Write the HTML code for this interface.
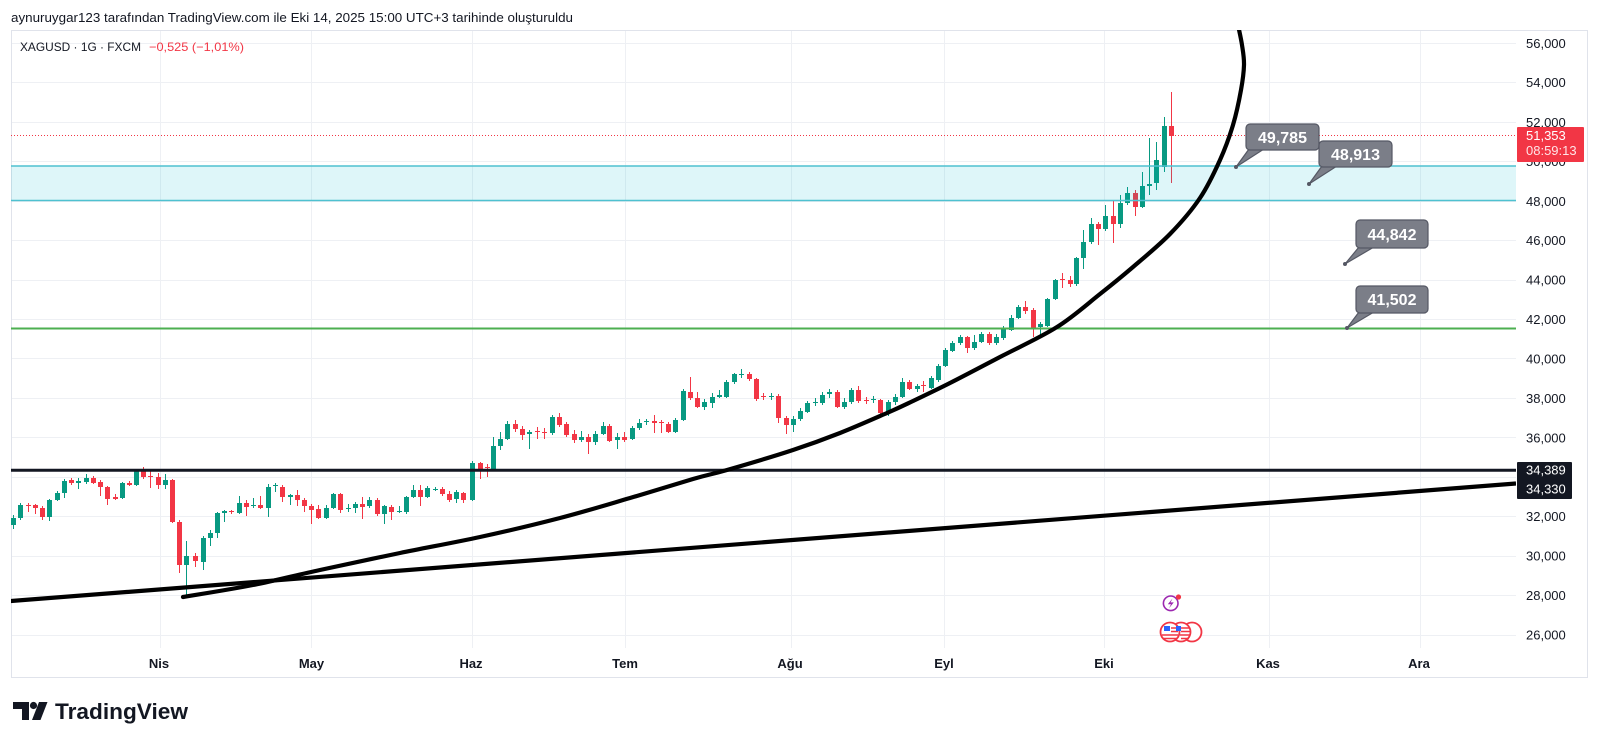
<!DOCTYPE html>
<html><head><meta charset="utf-8"><style>html,body{margin:0;padding:0;background:#fff}svg{display:block}</style></head>
<body>
<svg width="1600" height="745" viewBox="0 0 1600 745" xmlns="http://www.w3.org/2000/svg" font-family="'Liberation Sans', sans-serif">
<defs><clipPath id="pc"><rect x="11" y="30" width="1505" height="618"/></clipPath></defs>
<rect width="1600" height="745" fill="#fff"/>
<!-- header -->
<text x="11" y="22" font-size="13" fill="#131722" textLength="562" lengthAdjust="spacingAndGlyphs">aynuruygar123 tarafından TradingView.com ile Eki 14, 2025 15:00 UTC+3 tarihinde oluşturuldu</text>
<!-- frame -->
<rect x="11.5" y="30.5" width="1576" height="647" fill="none" stroke="#e0e3eb"/>
<!-- grid -->
<g stroke="#eef0f4" stroke-width="1">
<path d="M160.5 31V648M311.5 31V648M472.5 31V648M625.5 31V648M791.5 31V648M944.5 31V648M1104.5 31V648M1269.5 31V648M1420.5 31V648"/>
<path d="M12 43.5H1516M12 82.5H1516M12 122.5H1516M12 161.5H1516M12 201.5H1516M12 240.5H1516M12 280.5H1516M12 319.5H1516M12 358.5H1516M12 398.5H1516M12 437.5H1516M12 477.5H1516M12 516.5H1516M12 556.5H1516M12 595.5H1516M12 635.5H1516"/>
</g>
<text x="20" y="51" font-size="12" fill="#131722" textLength="121" lengthAdjust="spacingAndGlyphs">XAGUSD · 1G · FXCM</text>
<text x="149" y="51" font-size="12" fill="#f23645" textLength="95" lengthAdjust="spacingAndGlyphs">−0,525 (−1,01%)</text>
<g clip-path="url(#pc)">
<!-- red dotted price line -->
<path d="M11 135.5H1516" stroke="#f23645" stroke-width="1" stroke-dasharray="1 2"/>
<!-- candles -->
<path stroke="#089981" stroke-width="1" d="M13.5 515V529M20.5 503V520M49.5 499V521M57.5 491V501M64.5 479V498M78.5 478V489M86.5 474V484M122.5 482V499M136.5 469V486M165.5 474V489M186.5 541V597M203.5 536V570M210.5 530V546M217.5 512V538M224.5 510V522M239.5 496V514M253.5 498V508M268.5 484V517M275.5 483V492M290.5 494V505M326.5 505V519M333.5 493V509M348.5 504V512M355.5 502V513M369.5 497V508M384.5 505V524M399.5 506V513M406.5 496V514M413.5 485V498M427.5 486V498M435.5 487V491M456.5 490V503M472.5 461V501M493.5 437V471M500.5 432V450M507.5 421V440M529.5 430V449M552.5 415V435M581.5 431V442M595.5 431V445M603.5 422V435M617.5 433V449M632.5 426V440M639.5 419V430M646.5 419V425M675.5 418V433M683.5 389V421M704.5 399V410M712.5 393V408M719.5 390V398M726.5 380V398M734.5 373V384M741.5 369V378M771.5 393V400M793.5 416V432M800.5 408V421M807.5 401V413M815.5 398V406M822.5 392V405M829.5 389V398M844.5 398V409M851.5 388V404M873.5 396V403M888.5 400V416M895.5 394V405M902.5 378V398M917.5 384V392M931.5 376V389M938.5 364V382M945.5 348V367M952.5 341V352M960.5 335V345M974.5 335V350M981.5 332V343M996.5 334V345M1003.5 326V340M1011.5 315V331M1018.5 305V319M1040.5 322V336M1047.5 298V327M1055.5 279V300M1076.5 257V286M1083.5 230V269M1091.5 218V244M1105.5 205V231M1120.5 195V228M1127.5 187V205M1142.5 172V208M1149.5 138V195M1156.5 142V190M1164.5 117V172"/>
<path fill="#089981" d="M11 518h5v7h-5zM18 505h5v13h-5zM47 500h5v17h-5zM55 493h5v7h-5zM62 481h5v12h-5zM76 481h5v2h-5zM84 478h5v4h-5zM120 483h5v15h-5zM134 470h5v15h-5zM163 480h5v5h-5zM184 556h5v9h-5zM201 538h5v24h-5zM208 533h5v5h-5zM215 513h5v20h-5zM222 511h5v2h-5zM237 503h5v10h-5zM251 505h5v1h-5zM266 487h5v21h-5zM273 485h5v1h-5zM288 495h5v2h-5zM324 508h5v10h-5zM331 494h5v14h-5zM346 508h5v1h-5zM353 504h5v4h-5zM367 500h5v6h-5zM382 506h5v8h-5zM397 511h5v1h-5zM404 497h5v15h-5zM411 490h5v7h-5zM425 488h5v9h-5zM433 489h5v1h-5zM454 492h5v7h-5zM470 463h5v37h-5zM491 446h5v24h-5zM498 439h5v7h-5zM505 424h5v15h-5zM527 432h5v2h-5zM550 417h5v16h-5zM579 437h5v3h-5zM593 434h5v8h-5zM601 426h5v8h-5zM615 437h5v3h-5zM630 428h5v11h-5zM637 423h5v5h-5zM644 421h5v1h-5zM673 420h5v12h-5zM681 391h5v29h-5zM702 402h5v5h-5zM710 397h5v6h-5zM717 395h5v2h-5zM724 382h5v15h-5zM732 374h5v8h-5zM739 374h5v1h-5zM769 396h5v1h-5zM791 419h5v6h-5zM798 411h5v8h-5zM805 403h5v9h-5zM813 402h5v1h-5zM820 395h5v8h-5zM827 392h5v2h-5zM842 402h5v5h-5zM849 390h5v12h-5zM871 399h5v1h-5zM886 402h5v11h-5zM893 397h5v5h-5zM900 382h5v15h-5zM915 386h5v3h-5zM929 378h5v10h-5zM936 366h5v14h-5zM943 350h5v16h-5zM950 343h5v8h-5zM958 337h5v6h-5zM972 342h5v6h-5zM979 334h5v8h-5zM994 337h5v6h-5zM1001 329h5v9h-5zM1009 318h5v12h-5zM1016 307h5v11h-5zM1038 324h5v3h-5zM1045 299h5v27h-5zM1053 280h5v19h-5zM1074 258h5v26h-5zM1081 242h5v16h-5zM1089 224h5v18h-5zM1103 216h5v13h-5zM1118 203h5v21h-5zM1125 193h5v10h-5zM1140 186h5v21h-5zM1147 184h5v2h-5zM1154 160h5v23h-5zM1162 126h5v41h-5z"/>
<path stroke="#f23645" stroke-width="1" d="M28.5 503V512M35.5 504V514M42.5 506V520M71.5 478V485M93.5 476V484M100.5 480V496M107.5 486V505M115.5 494V500M129.5 481V486M143.5 467V479M150.5 471V488M158.5 473V489M172.5 479V523M179.5 520V573M195.5 553V567M231.5 510V514M246.5 500V516M260.5 496V509M282.5 485V502M297.5 490V506M304.5 498V512M311.5 504V524M318.5 505V519M340.5 493V513M362.5 497V519M377.5 498V516M391.5 505V520M420.5 485V506M442.5 487V496M449.5 491V502M463.5 492V503M480.5 462V479M487.5 464V477M515.5 420V432M522.5 426V440M537.5 427V439M544.5 428V439M559.5 413V427M566.5 422V437M574.5 430V443M588.5 434V454M609.5 424V442M624.5 432V442M654.5 415V433M661.5 420V433M668.5 422V433M690.5 377V400M697.5 392V408M749.5 372V381M756.5 378V401M763.5 393V400M778.5 394V423M786.5 416V434M837.5 390V408M858.5 386V403M866.5 397V404M880.5 399V418M909.5 380V390M923.5 381V392M967.5 336V353M989.5 332V345M1025.5 301V314M1033.5 308V337M1062.5 273V288M1070.5 276V287M1098.5 222V245M1113.5 201V243M1135.5 190V216M1171.5 92V183"/>
<path fill="#f23645" d="M26 505h5v1h-5zM33 505h5v3h-5zM40 508h5v9h-5zM69 480h5v3h-5zM91 478h5v5h-5zM98 482h5v5h-5zM105 487h5v12h-5zM113 497h5v2h-5zM127 483h5v2h-5zM141 471h5v6h-5zM148 476h5v1h-5zM156 477h5v8h-5zM170 480h5v42h-5zM177 522h5v43h-5zM193 556h5v5h-5zM229 511h5v1h-5zM244 503h5v4h-5zM258 505h5v3h-5zM280 487h5v10h-5zM295 495h5v5h-5zM302 500h5v6h-5zM309 506h5v4h-5zM316 509h5v9h-5zM338 494h5v16h-5zM360 504h5v3h-5zM375 500h5v14h-5zM389 507h5v5h-5zM418 490h5v7h-5zM440 489h5v5h-5zM447 494h5v6h-5zM461 493h5v7h-5zM478 463h5v7h-5zM485 467h5v1h-5zM513 424h5v5h-5zM520 429h5v6h-5zM535 431h5v1h-5zM542 432h5v1h-5zM557 417h5v8h-5zM564 424h5v11h-5zM572 434h5v6h-5zM586 437h5v5h-5zM607 426h5v15h-5zM622 437h5v3h-5zM652 421h5v2h-5zM659 422h5v1h-5zM666 424h5v8h-5zM688 392h5v6h-5zM695 398h5v9h-5zM747 374h5v5h-5zM754 379h5v20h-5zM761 396h5v1h-5zM776 396h5v22h-5zM784 418h5v7h-5zM835 392h5v15h-5zM856 390h5v11h-5zM864 400h5v1h-5zM878 400h5v13h-5zM907 382h5v7h-5zM921 385h5v1h-5zM965 337h5v11h-5zM987 334h5v9h-5zM1023 307h5v4h-5zM1031 310h5v18h-5zM1060 279h5v1h-5zM1068 280h5v4h-5zM1096 224h5v5h-5zM1111 216h5v8h-5zM1133 193h5v14h-5zM1169 126h5v10h-5z"/>
<!-- teal band -->
<rect x="11" y="166" width="1505" height="34.5" fill="#00bcd4" fill-opacity="0.13"/>
<path d="M11 166H1516M11 200.5H1516" stroke="#4fc1d0" stroke-width="1.5"/>
<!-- green line -->
<path d="M11 328.5H1516" stroke="#4caf50" stroke-width="2"/>
<!-- horizontal black -->
<path d="M11 470.3H1516" stroke="#131722" stroke-width="3"/>
<!-- trend line -->
<path d="M5 601.5L1516 483.5" stroke="#000" stroke-width="4.2" fill="none"/>
<!-- curve -->
<path d="M183 597C194.7 595 230.2 589.5 253 585C275.8 580.5 295.5 575.3 320 570C344.5 564.7 373.3 558.5 400 553C426.7 547.5 453.3 542.8 480 537C506.7 531.2 535 524.5 560 518C585 511.5 607.8 504.5 630 498C652.2 491.5 676.8 483.7 693 479C709.2 474.3 710.3 474.8 727 470C743.7 465.2 774.2 456.2 793 450C811.8 443.8 824.3 439.2 840 433C855.7 426.8 874.8 418.3 887 413C899.2 407.7 902.5 406 913 401C923.5 396 935.5 390.3 950 383C964.5 375.7 982.2 366.3 1000 357C1017.8 347.7 1040.3 337.5 1057 327C1073.7 316.5 1087.3 304 1100 294C1112.7 284 1121.3 277 1133 267C1144.7 257 1158.8 245.5 1170 234C1181.2 222.5 1191.7 210.3 1200 198C1208.3 185.7 1214.5 172.2 1220 160C1225.5 147.8 1229.5 136.7 1233 125C1236.5 113.3 1239.2 100 1241 90C1242.8 80 1243.8 72.5 1244 65C1244.2 57.5 1243 51.7 1242 45C1241 38.3 1238.7 28.3 1238 25" stroke="#000" stroke-width="4.2" fill="none" stroke-linejoin="round" stroke-linecap="round"/>
<!-- callouts -->
<g stroke="#555864" stroke-width="1.2">
<path d="M1249 149L1264 149L1236 167Z" fill="#7b7e88"/>
<rect x="1246" y="124" width="73" height="26" rx="4" fill="#7b7e88"/>
<path d="M1322 166L1337 166L1309 184Z" fill="#7b7e88"/>
<rect x="1319" y="141" width="73" height="26" rx="4" fill="#7b7e88"/>
<path d="M1359 247L1374 247L1345 264Z" fill="#7b7e88"/>
<rect x="1356" y="220" width="72" height="28" rx="4" fill="#7b7e88"/>
<path d="M1359 312L1374 312L1347 328Z" fill="#7b7e88"/>
<rect x="1356" y="286" width="72" height="27" rx="4" fill="#7b7e88"/>
</g>
<g fill="#555864">
<circle cx="1236" cy="167" r="2"/><circle cx="1309" cy="184" r="2"/><circle cx="1345" cy="264" r="2"/><circle cx="1347" cy="328" r="2"/>
</g>
<g fill="#fff" font-size="16" font-weight="bold" text-anchor="middle">
<text x="1282.5" y="143">49,785</text>
<text x="1355.5" y="160">48,913</text>
<text x="1392" y="240">44,842</text>
<text x="1392" y="305">41,502</text>
</g>
<!-- event icons -->
<circle cx="1170.7" cy="603.3" r="7.3" fill="#fff" stroke="#9c27b0" stroke-width="1.6"/>
<path d="M1172.5 598.5L1167.8 604.2H1171L1169 608.3L1173.8 602.4H1170.6Z" fill="#9c27b0"/>
<circle cx="1178.5" cy="597" r="2.6" fill="#f23645"/>
<g stroke="#f23645" stroke-width="1.8">
<circle cx="1192" cy="632" r="9.5" fill="#fff"/>
<circle cx="1181" cy="632" r="9.5" fill="#fff"/>
<circle cx="1170" cy="632" r="9.5" fill="#fff"/>
</g>
<g>
<rect x="1164" y="626" width="6" height="5" fill="#2962ff"/>
<path d="M1171 628H1178M1171 631.5H1178M1162 635H1178M1163 638.5H1177" stroke="#f23645" stroke-width="1.6"/>
<path d="M1181 628H1189M1181 631.5H1190M1180 635H1190M1181 638.5H1189" stroke="#f23645" stroke-width="1.6"/>
<rect x="1176" y="626" width="5" height="5" fill="#2962ff"/>
</g>
</g>
<!-- price axis labels -->
<g font-size="13" fill="#131722">
<text x="1526" y="48">56,000</text>
<text x="1526" y="87">54,000</text>
<text x="1526" y="127">52,000</text>
<text x="1526" y="166">50,000</text>
<text x="1526" y="206">48,000</text>
<text x="1526" y="245">46,000</text>
<text x="1526" y="284.5">44,000</text>
<text x="1526" y="324">42,000</text>
<text x="1526" y="363.5">40,000</text>
<text x="1526" y="403">38,000</text>
<text x="1526" y="442.5">36,000</text>
<text x="1526" y="521">32,000</text>
<text x="1526" y="560.5">30,000</text>
<text x="1526" y="600">28,000</text>
<text x="1526" y="639.5">26,000</text>
</g>
<!-- current price box -->
<rect x="1517" y="127" width="67" height="35" rx="1" fill="#f23645"/>
<text x="1526" y="140" font-size="13" fill="#fff">51,353</text>
<text x="1526" y="155" font-size="13" fill="#ffe3e6">08:59:13</text>
<!-- black box -->
<rect x="1517" y="462" width="55" height="37" rx="1" fill="#131722"/>
<text x="1526" y="474.5" font-size="13" fill="#fff">34,389</text>
<text x="1526" y="493.5" font-size="13" fill="#fff">34,330</text>
<!-- x axis labels -->
<g font-size="13" font-weight="bold" fill="#131722" text-anchor="middle">
<text x="159" y="668">Nis</text>
<text x="311.5" y="668">May</text>
<text x="471" y="668">Haz</text>
<text x="625" y="668">Tem</text>
<text x="790" y="668">Ağu</text>
<text x="944" y="668">Eyl</text>
<text x="1104" y="668">Eki</text>
<text x="1268" y="668">Kas</text>
<text x="1419" y="668">Ara</text>
</g>
<!-- logo -->
<g fill="#131722">
<path d="M13 702H29V720H22V709H13Z"/>
<circle cx="33.5" cy="705.5" r="3.6"/>
<path d="M39 702H47.5L40.5 720H32Z"/>
</g>
<text x="55" y="719" font-size="22" font-weight="bold" fill="#131722" textLength="133" lengthAdjust="spacingAndGlyphs">TradingView</text>
</svg>
</body></html>
